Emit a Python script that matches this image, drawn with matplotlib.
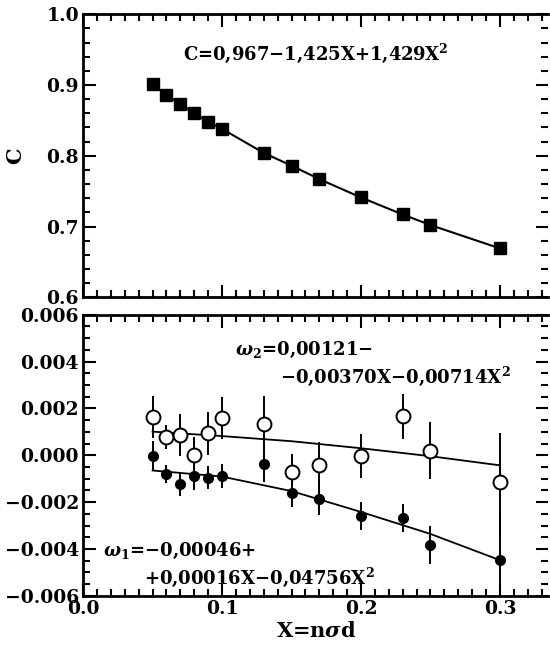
import numpy as np
import matplotlib
matplotlib.use('Agg')
import matplotlib.pyplot as plt
from matplotlib.ticker import MultipleLocator

# upper panel: C vs X
x_c = [0.05, 0.06, 0.07, 0.08, 0.09, 0.10, 0.13, 0.15, 0.17, 0.20, 0.23, 0.25, 0.30]
c_vals = [0.901, 0.886, 0.873, 0.860, 0.848, 0.838, 0.804, 0.786, 0.767, 0.741, 0.717, 0.702, 0.669]

# lower panel: omega_2 (open) and omega_1 (filled)
x_w = [0.05, 0.06, 0.07, 0.08, 0.09, 0.10, 0.13, 0.15, 0.17, 0.20, 0.23, 0.25, 0.30]
w2 = [0.00162, 0.00078, 0.00085, 0.0000, 0.00093, 0.00159, 0.00133, -0.00073, -0.00043, -0.00004, 0.00166, 0.00020, -0.00113]
w2_err = [0.0009, 0.0005, 0.0009, 0.0008, 0.0009, 0.0009, 0.0012, 0.0008, 0.0010, 0.00095, 0.00095, 0.0012, 0.0021]
w1 = [-0.00001, -0.00080, -0.00123, -0.00088, -0.00095, -0.00088, -0.00036, -0.00160, -0.00187, -0.00261, -0.00267, -0.00384, -0.00448]
w1_err = [0.0006, 0.0004, 0.0005, 0.0006, 0.0005, 0.0005, 0.0008, 0.0006, 0.0007, 0.0006, 0.0006, 0.0008, 0.0021]

# fit curves
x_fit = [0.05, 0.10, 0.15, 0.20, 0.25, 0.30]
w2_fit = [0.00101, 0.00082, 0.00060, 0.00030, -0.00004, -0.00043]
w1_fit = [-0.00065, -0.00091, -0.00153, -0.00242, -0.00336, -0.00448]

plt.rcParams['font.family'] = 'DejaVu Serif'
plt.rcParams['font.weight'] = 'bold'
plt.rcParams['mathtext.fontset'] = 'dejavuserif'

fig = plt.figure(figsize=(5.5, 6.49), dpi=100)
ax1 = fig.add_axes([0.151, 0.542, 0.846, 0.436])
ax2 = fig.add_axes([0.151, 0.082, 0.846, 0.433])

for ax in (ax1, ax2):
    ax.set_xlim(0, 0.3348)
    ax.xaxis.set_major_locator(MultipleLocator(0.1))
    ax.xaxis.set_minor_locator(MultipleLocator(0.01))
    ax.tick_params(which='both', direction='in', top=True, right=True, width=1.5)
    ax.tick_params(which='major', length=9, labelsize=13.5, pad=3)
    ax.tick_params(which='minor', length=5)
    for s in ('left', 'top', 'bottom'):
        ax.spines[s].set_linewidth(2)
    ax.spines['right'].set_visible(False)

# upper panel
ax1.plot(x_c, c_vals, color='black', lw=1.5, marker='s', ms=8)
ax1.set_ylim(0.6, 1.0)
ax1.yaxis.set_minor_locator(MultipleLocator(0.02))
ax1.set_yticks([0.6, 0.7, 0.8, 0.9, 1.0])
ax1.set_yticklabels(['0.6', '0.7', '0.8', '0.9', '1.0'])
ax1.tick_params(labelbottom=False)
ax1.set_ylabel('C', fontsize=15, fontweight='bold')
ax1.yaxis.set_label_coords(-0.125, 0.5)
ax1.text(0.072, 0.935, r'C=0,967$-$1,425X+1,429X$^{\mathbf{2}}$', fontsize=13, fontweight='bold')

# lower panel
ax2.plot(x_fit, w2_fit, color='black', lw=1.3)
ax2.plot(x_fit, w1_fit, color='black', lw=1.3)
ax2.errorbar(x_w, w2, yerr=w2_err, fmt='o', mfc='white', mec='black', mew=1.4,
             ms=10, ecolor='black', elinewidth=1.4, capsize=0, zorder=3)
ax2.errorbar(x_w, w1, yerr=w1_err, fmt='o', color='black', ms=7,
             ecolor='black', elinewidth=1.4, capsize=0, zorder=3)
ax2.set_ylim(-0.006, 0.006)
ax2.yaxis.set_major_locator(MultipleLocator(0.002))
ax2.yaxis.set_minor_locator(MultipleLocator(0.0005))
ax2.yaxis.set_major_formatter(plt.FuncFormatter(lambda v, p: ('%.3f' % v).replace('-', '\u2212')))
ax2.set_xticks([0.0, 0.1, 0.2, 0.3])
ax2.set_xticklabels(['0.0', '0.1', '0.2', '0.3'])
ax2.set_xlabel(r'X=n$\sigma$d', fontsize=15, fontweight='bold', labelpad=2)
# label is cut by the left edge of the scan, only its subscripts show
ax2.set_ylabel(r'$\omega_1$ , $\omega_2$', fontsize=17, fontweight='bold')
ax2.yaxis.set_label_coords(-0.172, 0.57)

ax2.text(0.109, 0.0043, r'$\omega_2$=0,00121$-$', fontsize=13, fontweight='bold')
ax2.text(0.3075, 0.0031, r'$-$0,00370X$-$0,00714X$^{\mathbf{2}}$', fontsize=13,
         fontweight='bold', ha='right')
ax2.text(0.014, -0.0043, r'$\omega_1$=$-$0,00046+', fontsize=13, fontweight='bold')
ax2.text(0.044, -0.0055, r'+0,00016X$-$0,04756X$^{\mathbf{2}}$', fontsize=13, fontweight='bold')

fig.savefig('out.png', dpi=100)
